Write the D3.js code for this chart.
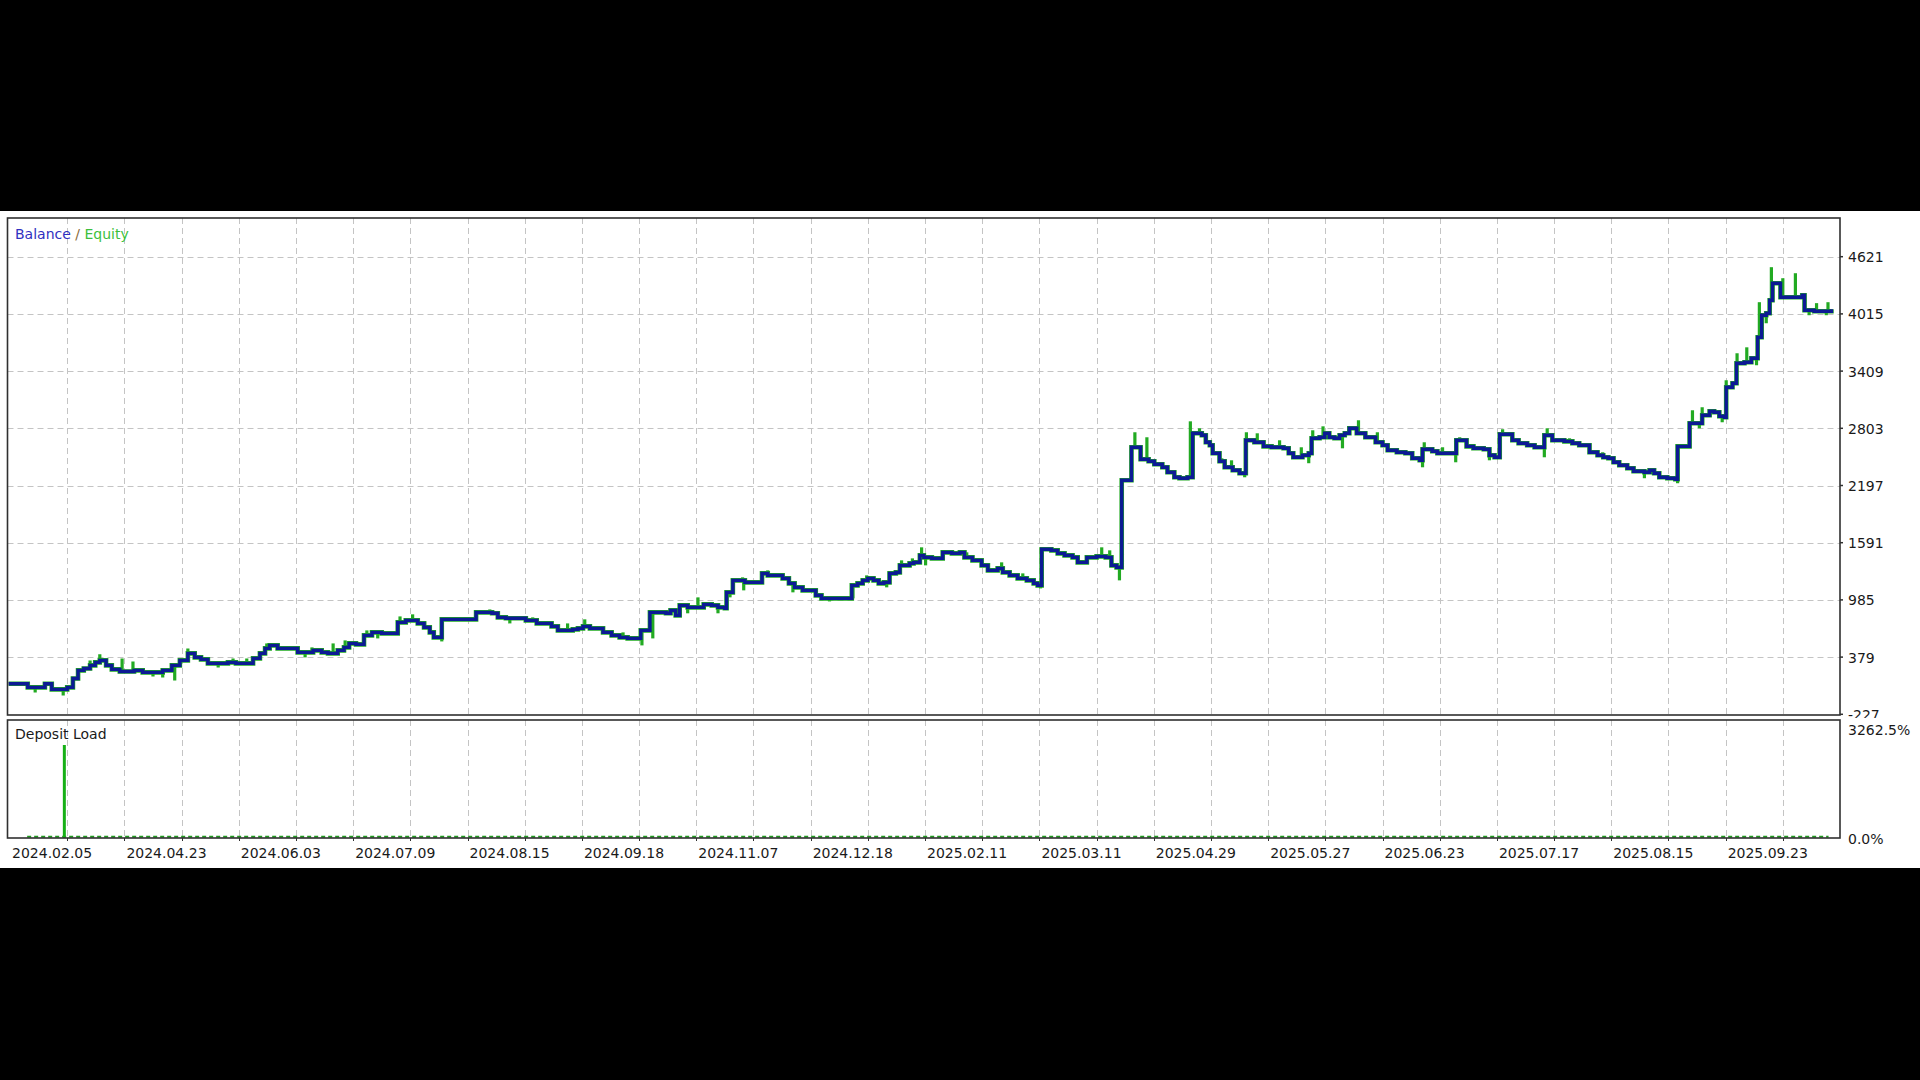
<!DOCTYPE html>
<html>
<head>
<meta charset="utf-8">
<script src="https://cdn.jsdelivr.net/npm/d3@7"></script>
<style>
  html, body { margin: 0; padding: 0; background: #000; }
  svg { display: block; }
  text { font-family: "DejaVu Sans", sans-serif; font-size: 14px; fill: #1a1a1a; }
</style>
</head>
<body>
<svg id="chart" width="1920" height="1080"></svg>
<script>
// ---------- DATA ----------
// x position is expressed in grid periods (one dashed vertical grid line per period)
const dateLabels = ["2024.02.05","2024.04.23","2024.06.03","2024.07.09","2024.08.15","2024.09.18","2024.11.07","2024.12.18","2025.02.11","2025.03.11","2025.04.29","2025.05.27","2025.06.23","2025.07.17","2025.08.15","2025.09.23"];
const labelPeriods = [0,2,4,6,8,10,12,14,16,18,20,22,24,26,28,30];
const gridPeriods = [1,2,3,4,5,6,7,8,9,10,11,12,13,14,15,16,17,18,19,20,21,22,23,24,25,26,27,28,29,30,31];
const yTicks = [-227, 379, 985, 1591, 2197, 2803, 3409, 4015, 4621];
const depositTicks = ["3262.5%", "0.0%"];

// balance: [period, value] (step line)
const balance = [
[-0.03,97],[0.31,58],[0.61,97],[0.73,37],[1.00,58],[1.10,153],[1.19,238],[1.29,259],[1.40,291],[1.49,323],[1.57,344],[1.68,291],[1.78,249],[1.92,227],[2.17,238],[2.32,217],[2.67,238],[2.83,291],[2.97,344],[3.11,418],[3.23,376],[3.34,355],[3.46,312],[3.81,323],[3.95,312],[4.25,365],[4.37,418],[4.46,471],[4.54,503],[4.68,471],[5.03,429],[5.30,450],[5.45,429],[5.56,418],[5.73,450],[5.84,482],[5.93,524],[6.05,514],[6.19,609],[6.33,641],[6.50,630],[6.78,747],[6.92,768],[7.13,736],[7.24,694],[7.34,641],[7.41,588],[7.55,779],
[8.15,853],[8.43,843],[8.53,800],[8.67,790],[9.02,768],[9.21,736],[9.47,704],[9.58,662],[9.84,673],[9.93,683],[10.02,704],[10.14,683],[10.37,641],[10.52,609],[10.66,588],[10.80,577],[11.03,662],[11.19,853],[11.47,843],[11.55,874],[11.64,821],[11.71,927],[11.85,906],[12.13,938],[12.27,927],[12.38,906],[12.50,896],[12.53,1065],[12.64,1192],[12.85,1171],[13.15,1266],[13.25,1245],[13.51,1213],[13.62,1160],[13.72,1118],[13.86,1086],[14.09,1033],[14.19,1001],[14.72,1139],[14.82,1160],[14.91,1192],[15.00,1213],[15.10,1192],[15.19,1160],[15.28,1171],[15.38,1266],[15.49,1277],[15.56,1351],[15.73,1372],[15.80,1383],[15.91,1457],[15.98,1436],
[16.12,1425],[16.31,1489],[16.47,1478],[16.61,1489],[16.69,1436],[16.83,1404],[16.99,1351],[17.10,1298],[17.27,1319],[17.36,1277],[17.48,1245],[17.62,1213],[17.78,1192],[17.90,1160],[17.97,1139],[18.04,1521],[18.21,1510],[18.32,1478],[18.44,1457],[18.58,1436],[18.67,1383],[18.83,1436],[19.00,1446],[19.16,1436],[19.26,1351],[19.35,1330],[19.44,2252],[19.61,2602],[19.77,2475],[19.91,2454],[20.01,2422],[20.15,2390],[20.24,2337],[20.36,2284],[20.45,2274],[20.59,2284],[20.68,2750],[20.84,2729],[20.91,2655],[20.98,2623],[21.03,2538],[21.15,2454],[21.24,2390],[21.38,2358],[21.50,2327],[21.61,2676],[21.76,2655],[21.92,2612],[22.06,2602],[22.27,2591],[22.36,2538],[22.44,2496],[22.60,2517],[22.71,2538],[22.76,2697],[22.90,2708],[22.99,2750],[23.07,2708],[23.16,2697],[23.25,2729],[23.34,2750],[23.42,2803],[23.55,2750],[23.70,2708],[23.88,2655],
[24.00,2623],[24.09,2570],[24.25,2549],[24.40,2538],[24.52,2485],[24.65,2464],[24.70,2581],[24.87,2560],[24.96,2538],[25.29,2676],[25.47,2612],[25.59,2591],[25.77,2581],[25.87,2517],[25.96,2496],[26.05,2740],[26.27,2676],[26.38,2644],[26.53,2623],[26.66,2602],[26.83,2729],[26.97,2676],[27.18,2665],[27.32,2644],[27.44,2623],[27.62,2549],[27.76,2517],[27.86,2496],[27.95,2485],[28.04,2443],[28.14,2411],[28.28,2380],[28.39,2348],[28.58,2337],[28.67,2358],[28.75,2327],[28.84,2284],[28.98,2274],[29.12,2263],[29.16,2612],[29.37,2856],[29.59,2941],[29.72,2983],[29.80,2973],[29.89,2930],[29.98,2920],[30.01,3238],[30.12,3280],[30.19,3492],[30.33,3503],[30.45,3545],[30.56,3768],[30.63,4001],[30.71,4022],[30.77,4160],[30.82,4340],[30.96,4192],[31.34,4213],[31.38,4054],[31.55,4043],[31.85,4064]
];

// equity excursions away from balance: [period, equity value]
const equitySpikes = [
[0.44,5],[0.93,-27],[1.40,344],[1.57,408],[1.96,365],[2.15,333],[2.50,174],[2.67,164],[2.88,132],[3.11,471],[3.64,270],[3.90,365],[4.14,365],[4.49,524],[4.86,492],[5.16,376],[5.28,482],[5.65,524],[5.86,556],[6.24,662],[6.43,577],[6.82,810],[7.04,832],[7.25,757],[7.55,545],
[8.18,874],[8.39,884],[8.74,736],[9.14,800],[9.75,736],[10.05,779],[10.72,641],[11.05,503],[11.24,577],[11.50,874],[11.85,843],[12.03,1012],[12.24,959],[12.38,843],[12.59,1012],[12.81,1224],[12.83,1086],[12.99,1192],[13.25,1298],[13.69,1065],[14.33,969],[14.74,1001],[14.98,1245],[15.33,1118],[15.59,1404],[15.78,1425],[15.94,1542],
[16.01,1351],[16.48,1510],[16.73,1489],[17.34,1383],[17.71,1266],[18.02,1107],[19.09,1542],[19.23,1510],[19.40,1192],[19.67,2761],[19.88,2708],[20.64,2877],[20.80,2803],[20.98,2676],[21.19,2485],[21.36,2464],[21.59,2284],[21.62,2761],[21.81,2750],[22.20,2676],[22.58,2602],[22.71,2433],[22.78,2782],[22.96,2824],[23.30,2591],[23.58,2888],[23.91,2761],
[24.70,2390],[24.73,2655],[25.05,2602],[25.28,2443],[25.35,2708],[25.87,2464],[26.10,2793],[26.83,2496],[26.88,2803],[27.27,2697],[27.85,2549],[28.58,2274],[29.16,2221],[29.42,2994],[29.54,2803],[29.59,3026],[29.94,2867],[30.01,3312],[30.20,3598],[30.37,3661],[30.54,3471],[30.59,4139],[30.71,3916],[30.80,4510],[31.00,4393],[31.22,4446],[31.46,4001],[31.59,4129],[31.76,4001],[31.79,4139]
];

// deposit load (%): one large peak, small load otherwise
const depositPeak = [[0.95, 3262.5]];
const depositBase = [[0.30, 40], [31.80, 40]];

// ---------- LAYOUT ----------
const svg = d3.select("#chart");
const W = 1920, H = 1080;
const frameL = 7.5, frameR = 1840;
const mainTop = 218, mainBottom = 715;
const depTop = 720, depBottom = 838;

svg.append("rect").attr("x", 0).attr("y", 0).attr("width", W).attr("height", H).attr("fill", "#000");
svg.append("rect").attr("x", 0).attr("y", 211).attr("width", W).attr("height", 657).attr("fill", "#fff");

const x = d3.scaleLinear().domain([-0.044, 32]).range([frameL, frameR]);
const y = d3.scaleLinear().domain([-227, 4621]).range([714.3, 256.7]);
const yDep = d3.scaleLinear().domain([0, 3262.5]).range([depBottom, 745]);

const defs = svg.append("defs");
defs.append("clipPath").attr("id", "clipMain").append("rect")
  .attr("x", frameL + 1).attr("y", mainTop + 1).attr("width", frameR - frameL - 2).attr("height", mainBottom - mainTop - 2);
defs.append("clipPath").attr("id", "clipLabels").append("rect")
  .attr("x", frameR).attr("y", 211).attr("width", 80).attr("height", depTop - 2 - 211);

const gridColor = "#c4c4c4";
const dash = "6,4";

// vertical grid lines (both panels)
const gGrid = svg.append("g");
gGrid.selectAll("line.vm").data(gridPeriods).join("line")
  .attr("x1", d => Math.round(x(d)) + 0.5).attr("x2", d => Math.round(x(d)) + 0.5)
  .attr("y1", mainTop).attr("y2", mainBottom)
  .attr("stroke", gridColor).attr("stroke-dasharray", dash);
gGrid.selectAll("line.vd").data(gridPeriods).join("line")
  .attr("x1", d => Math.round(x(d)) + 0.5).attr("x2", d => Math.round(x(d)) + 0.5)
  .attr("y1", depTop).attr("y2", depBottom)
  .attr("stroke", gridColor).attr("stroke-dasharray", dash);
// horizontal grid lines
gGrid.selectAll("line.h").data(yTicks.slice(1)).join("line")
  .attr("x1", frameL).attr("x2", frameR)
  .attr("y1", d => Math.round(y(d)) + 0.5).attr("y2", d => Math.round(y(d)) + 0.5)
  .attr("stroke", gridColor).attr("stroke-dasharray", dash);

// ---------- SERIES ----------
const balanceColor = "#0c1a94";
const equityColor = "#22aa22";
const bis = d3.bisector(d => d[0]).right;
const balanceAt = u => balance[Math.max(0, bis(balance, u) - 1)][1];

const stepLine = d3.line().x(d => x(d[0])).y(d => y(d[1])).curve(d3.curveStepAfter);
const gSeries = svg.append("g").attr("clip-path", "url(#clipMain)");

// equity
gSeries.append("path").datum(balance).attr("d", stepLine)
  .attr("fill", "none").attr("stroke", equityColor).attr("stroke-width", 4.6);
gSeries.selectAll("line.spike").data(equitySpikes).join("line")
  .attr("x1", d => x(d[0])).attr("x2", d => x(d[0]))
  .attr("y1", d => y(balanceAt(d[0]))).attr("y2", d => y(d[1]))
  .attr("stroke", equityColor).attr("stroke-width", 3.2);
// balance
gSeries.append("path").datum(balance).attr("d", stepLine)
  .attr("fill", "none").attr("stroke", balanceColor).attr("stroke-width", 3.4)
  .attr("stroke-linejoin", "miter");

// deposit load
svg.append("path").datum(depositBase)
  .attr("d", d3.line().x(d => x(d[0])).y(d => yDep(d[1])))
  .attr("stroke", "#1f9a1f").attr("stroke-width", 2).attr("stroke-dasharray", "4,3").attr("fill", "none");
svg.selectAll("line.dep").data(depositPeak).join("line")
  .attr("x1", d => x(d[0])).attr("x2", d => x(d[0]))
  .attr("y1", yDep(0)).attr("y2", d => yDep(d[1]))
  .attr("stroke", "#16b016").attr("stroke-width", 3);

// ---------- FRAMES ----------
const frameColor = "#303030";
svg.append("rect").attr("x", frameL).attr("y", mainTop).attr("width", frameR - frameL).attr("height", mainBottom - mainTop)
  .attr("fill", "none").attr("stroke", frameColor).attr("stroke-width", 1.6);
svg.append("rect").attr("x", frameL).attr("y", depTop).attr("width", frameR - frameL).attr("height", depBottom - depTop)
  .attr("fill", "none").attr("stroke", frameColor).attr("stroke-width", 1.6);

// ---------- AXES ----------
const gY = svg.append("g").attr("clip-path", "url(#clipLabels)");
gY.selectAll("line").data(yTicks).join("line")
  .attr("x1", frameR).attr("x2", frameR + 3)
  .attr("y1", d => y(d)).attr("y2", d => y(d))
  .attr("stroke", frameColor).attr("stroke-width", 1.5);
gY.selectAll("text").data(yTicks).join("text")
  .attr("x", 1848).attr("y", d => y(d) + 1.5).attr("dominant-baseline", "middle")
  .text(d => d);

// x ticks and labels
svg.selectAll("line.xt").data(gridPeriods).join("line")
  .attr("x1", d => Math.round(x(d)) + 0.5).attr("x2", d => Math.round(x(d)) + 0.5)
  .attr("y1", depBottom).attr("y2", depBottom + 3)
  .attr("stroke", frameColor);
svg.selectAll("text.xl").data(dateLabels).join("text")
  .attr("x", (d, i) => x(labelPeriods[i]) + 2).attr("y", 858)
  .text(d => d);

// deposit axis labels
svg.append("text").attr("x", 1848).attr("y", 731).attr("dominant-baseline", "middle").text(depositTicks[0]);
svg.append("text").attr("x", 1848).attr("y", 840).attr("dominant-baseline", "middle").text(depositTicks[1]);

// titles
const t = svg.append("text").attr("x", 15).attr("y", 239);
t.append("tspan").style("fill", "#3030c0").text("Balance");
t.append("tspan").style("fill", "#8a6a3a").text(" / ");
t.append("tspan").style("fill", "#3cbf3c").text("Equity");
svg.append("text").attr("x", 15).attr("y", 739).text("Deposit Load");
</script>
</body>
</html>
